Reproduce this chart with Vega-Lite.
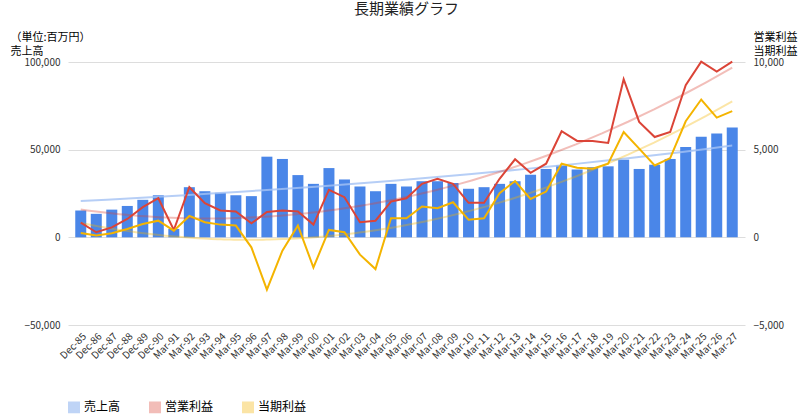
{
  "$schema": "https://vega.github.io/schema/vega-lite/v6.json",
  "width": 677,
  "height": 263,
  "padding": {"left": 68, "top": 62, "right": 55, "bottom": 89},
  "autosize": {"type": "none"},
  "background": "white",
  "config": {"font": "Noto Sans CJK JP", "view": {"stroke": null}},
  "title": {"text": "長期業績グラフ", "fontSize": 15, "fontWeight": "normal", "offset": 14, "color": "#222"},
  "data": {"values": [
    {"i":0,"label":"Dec-85","sales":15300,"op":840,"net":250},
    {"i":1,"label":"Dec-86","sales":13400,"op":290,"net":100},
    {"i":2,"label":"Dec-87","sales":15800,"op":570,"net":230},
    {"i":3,"label":"Dec-88","sales":17900,"op":1050,"net":480},
    {"i":4,"label":"Dec-89","sales":21400,"op":1720,"net":760},
    {"i":5,"label":"Dec-90","sales":24000,"op":2230,"net":950},
    {"i":6,"label":"Mar-91","sales":4800,"op":420,"net":380},
    {"i":7,"label":"Mar-92","sales":28600,"op":2860,"net":1220},
    {"i":8,"label":"Mar-93","sales":26300,"op":1950,"net":860},
    {"i":9,"label":"Mar-94","sales":25400,"op":1530,"net":725},
    {"i":10,"label":"Mar-95","sales":24000,"op":1470,"net":670},
    {"i":11,"label":"Mar-96","sales":23500,"op":800,"net":-570},
    {"i":12,"label":"Mar-97","sales":46000,"op":1450,"net":-2980},
    {"i":13,"label":"Mar-98","sales":44700,"op":1530,"net":-760},
    {"i":14,"label":"Mar-99","sales":35500,"op":1470,"net":670},
    {"i":15,"label":"Mar-00","sales":30500,"op":725,"net":-1720},
    {"i":16,"label":"Mar-01","sales":39500,"op":2710,"net":420},
    {"i":17,"label":"Mar-02","sales":33000,"op":2290,"net":290},
    {"i":18,"label":"Mar-03","sales":29000,"op":860,"net":-990},
    {"i":19,"label":"Mar-04","sales":26300,"op":950,"net":-1810},
    {"i":20,"label":"Mar-05","sales":30500,"op":2040,"net":1090},
    {"i":21,"label":"Mar-06","sales":29000,"op":2230,"net":1090},
    {"i":22,"label":"Mar-07","sales":32000,"op":3050,"net":1760},
    {"i":23,"label":"Mar-08","sales":32000,"op":3340,"net":1660},
    {"i":24,"label":"Mar-09","sales":31000,"op":3050,"net":2000},
    {"i":25,"label":"Mar-10","sales":27700,"op":1970,"net":1010},
    {"i":26,"label":"Mar-11","sales":28600,"op":1970,"net":1090},
    {"i":27,"label":"Mar-12","sales":30500,"op":3340,"net":2520},
    {"i":28,"label":"Mar-13","sales":32000,"op":4450,"net":3210},
    {"i":29,"label":"Mar-14","sales":35700,"op":3680,"net":2190},
    {"i":30,"label":"Mar-15","sales":39000,"op":4200,"net":2610},
    {"i":31,"label":"Mar-16","sales":41000,"op":6050,"net":4200},
    {"i":32,"label":"Mar-17","sales":38700,"op":5500,"net":3970},
    {"i":33,"label":"Mar-18","sales":40000,"op":5500,"net":3910},
    {"i":34,"label":"Mar-19","sales":40500,"op":5380,"net":4200},
    {"i":35,"label":"Mar-20","sales":44300,"op":9020,"net":6010},
    {"i":36,"label":"Mar-21","sales":39000,"op":6580,"net":5060},
    {"i":37,"label":"Mar-22","sales":41400,"op":5720,"net":4100},
    {"i":38,"label":"Mar-23","sales":44700,"op":6010,"net":4520},
    {"i":39,"label":"Mar-24","sales":51500,"op":8680,"net":6620},
    {"i":40,"label":"Mar-25","sales":57300,"op":10020,"net":7860},
    {"i":41,"label":"Mar-26","sales":59200,"op":9450,"net":6830},
    {"i":42,"label":"Mar-27","sales":62600,"op":10020,"net":7200}
  ]},
  "encoding": {
    "x": {
      "field": "i", "type": "quantitative",
      "scale": {"domain": [-0.5, 42.5], "nice": false, "zero": false},
      "axis": {
        "title": null, "grid": false, "domain": false, "ticks": false,
        "values": [0,1,2,3,4,5,6,7,8,9,10,11,12,13,14,15,16,17,18,19,20,21,22,23,24,25,26,27,28,29,30,31,32,33,34,35,36,37,38,39,40,41,42],
        "labelAngle": -45, "labelAlign": "right", "labelBaseline": "top", "labelFontSize": 10, "labelColor": "#333",
        "labelExpr": "['Dec-85','Dec-86','Dec-87','Dec-88','Dec-89','Dec-90','Mar-91','Mar-92','Mar-93','Mar-94','Mar-95','Mar-96','Mar-97','Mar-98','Mar-99','Mar-00','Mar-01','Mar-02','Mar-03','Mar-04','Mar-05','Mar-06','Mar-07','Mar-08','Mar-09','Mar-10','Mar-11','Mar-12','Mar-13','Mar-14','Mar-15','Mar-16','Mar-17','Mar-18','Mar-19','Mar-20','Mar-21','Mar-22','Mar-23','Mar-24','Mar-25','Mar-26','Mar-27'][datum.value]",
        "labelOverlap": false, "labelPadding": 6
      }
    },
    "color": {
      "scale": {"domain": ["sales", "op", "net"], "range": ["#4a86e8", "#db4437", "#f4b400"]},
      "legend": {
        "orient": "bottom", "direction": "horizontal", "title": null, "labelFontSize": 12, "offset": 40,
        "labelExpr": "datum.value == 'sales' ? '売上高' : datum.value == 'op' ? '営業利益' : '当期利益'",
        "symbolType": "square", "symbolSize": 110, "columnPadding": 25
      }
    }
  },
  "layer": [
    {
      "layer": [
        {
          "mark": {"type": "bar", "width": 11},
          "encoding": {
            "y": {"field": "sales", "type": "quantitative"},
            "color": {"datum": "sales", "type": "nominal"}
          }
        },
        {
          "transform": [{"regression": "sales", "on": "i", "method": "exp"}],
          "mark": {"type": "line", "color": "#a4c2f4", "strokeWidth": 2, "opacity": 0.8},
          "encoding": {"y": {"field": "sales", "type": "quantitative"}}
        }
      ],
      "encoding": {
        "y": {
          "scale": {"domain": [-50000, 100000]},
          "axis": {
            "values": [-50000, 0, 50000, 100000], "format": ",.0f", "domain": false, "ticks": false,
            "gridColor": "#dddddd", "labelFontSize": 10, "labelColor": "#333", "labelPadding": 8,
            "title": ["（単位:百万円）", "", "売上高"], "titleAngle": 0, "titleFontWeight": "normal",
            "titleFontSize": 11, "titleAlign": "left", "titleBaseline": "bottom", "titleX": -58, "titleY": -20, "titleLineHeight": 14
          }
        }
      }
    },
    {
      "transform": [{"fold": ["op", "net"], "as": ["series", "value"]}],
      "layer": [
        {
          "transform": [{"regression": "value", "on": "i", "groupby": ["series"], "method": "poly", "order": 2}],
          "mark": {"type": "line", "strokeWidth": 2, "opacity": 0.35},
          "encoding": {
            "y": {"field": "value", "type": "quantitative"},
            "color": {"field": "series", "type": "nominal"}
          }
        },
        {
          "mark": {"type": "line", "strokeWidth": 2},
          "encoding": {
            "y": {"field": "value", "type": "quantitative"},
            "color": {"field": "series", "type": "nominal"}
          }
        }
      ],
      "encoding": {
        "y": {
          "scale": {"domain": [-5000, 10000]},
          "axis": {
            "orient": "right", "values": [-5000, 0, 5000, 10000], "format": ",.0f", "domain": false, "ticks": false,
            "grid": false, "labelFontSize": 10, "labelColor": "#333", "labelPadding": 8,
            "title": ["営業利益", "当期利益"], "titleAngle": 0, "titleFontWeight": "normal", "titleFontSize": 11,
            "titleAlign": "left", "titleBaseline": "bottom", "titleX": 8, "titleY": -20, "titleLineHeight": 14
          }
        }
      }
    },
    {
      "mark": {"type": "rule", "color": "#666"},
      "encoding": {"y": {"datum": 0, "type": "quantitative", "scale": {"domain": [-50000, 100000]}, "axis": null}}
    }
  ],
  "resolve": {"scale": {"y": "independent"}}
}
